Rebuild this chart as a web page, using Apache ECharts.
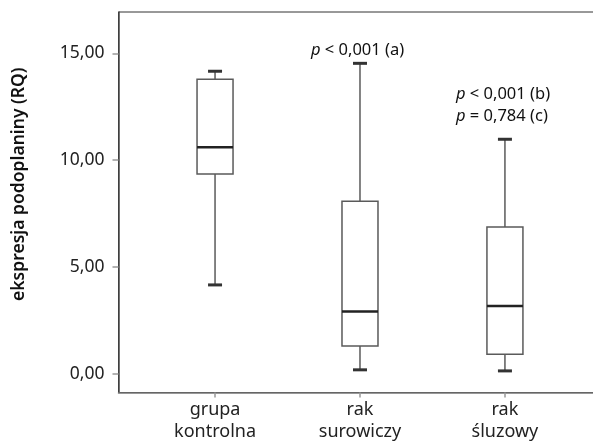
<!DOCTYPE html>
<html lang="pl">
<head>
<meta charset="UTF-8">
<title>ekspresja podoplaniny</title>
<script src="https://cdn.jsdelivr.net/npm/echarts@6/dist/echarts.min.js"></script>
<style>
  html, body { margin: 0; padding: 0; background: #fff; }
  #chart { width: 593px; height: 441px; }
</style>
</head>
<body>
<div id="chart"></div>
<script>
// groups and box values (RQ)
var categories = ['grupa\nkontrolna', 'rak\nsurowiczy', 'rak\nśluzowy'];
var lowers  = [4.17, 0.20, 0.15];
var q1s     = [9.35, 1.31, 0.93];
var medians = [10.61, 2.93, 3.18];
var q3s     = [13.79, 8.08, 6.88];
var uppers  = [14.16, 14.53, 10.98];
var yTicks  = [0, 5, 10, 15];

var fontFam = '"Noto Sans", "Open Sans", sans-serif';

var boxData = categories.map(function (c, i) {
    return [i + 1, lowers[i], q1s[i], medians[i], q3s[i], uppers[i]];
});

function renderBox(params, api) {
    var x = api.value(0);
    var pLow = api.coord([x, api.value(1)]);
    var pQ1 = api.coord([x, api.value(2)]);
    var pMed = api.coord([x, api.value(3)]);
    var pQ3 = api.coord([x, api.value(4)]);
    var pHigh = api.coord([x, api.value(5)]);
    var cx = pLow[0];
    var hw = 18, cap = 7;
    var grey = '#5a5a5a';
    return {
        type: 'group',
        children: [
            { type: 'line', shape: { x1: cx, y1: pLow[1], x2: cx, y2: pQ1[1] }, style: { stroke: grey, lineWidth: 1.5 } },
            { type: 'line', shape: { x1: cx, y1: pQ3[1], x2: cx, y2: pHigh[1] }, style: { stroke: grey, lineWidth: 1.5 } },
            { type: 'rect', shape: { x: cx - hw, y: pQ3[1], width: hw * 2, height: pQ1[1] - pQ3[1] },
              style: { fill: '#fff', stroke: grey, lineWidth: 1.5 } },
            { type: 'line', shape: { x1: cx - hw, y1: pMed[1], x2: cx + hw, y2: pMed[1] }, style: { stroke: '#222', lineWidth: 2.5 } },
            { type: 'line', shape: { x1: cx - cap, y1: pLow[1], x2: cx + cap, y2: pLow[1] }, style: { stroke: '#333', lineWidth: 3 } },
            { type: 'line', shape: { x1: cx - cap, y1: pHigh[1], x2: cx + cap, y2: pHigh[1] }, style: { stroke: '#333', lineWidth: 3 } }
        ]
    };
}

var chart = echarts.init(document.getElementById('chart'));
var option = {
    backgroundColor: '#fff',
    animation: false,
    grid: {
        left: 118.5, top: 12, right: -5, bottom: 48.5,
        outerBoundsMode: 'none',
        show: true, borderColor: '#333', borderWidth: 1
    },
    xAxis: {
        type: 'value',
        min: 0.334,
        max: 3.642,
        splitLine: { show: false },
        axisLine: { show: true, onZero: false, lineStyle: { color: '#777', width: 1.5 } },
        axisTick: { show: true, length: 5, customValues: [1, 2, 3], lineStyle: { color: '#999', width: 1.5 } },
        axisLabel: {
            customValues: [1, 2, 3],
            formatter: function (v) { return categories[Math.round(v) - 1]; },
            color: '#222', fontSize: 18, lineHeight: 22, margin: 6, fontFamily: fontFam
        }
    },
    yAxis: {
        type: 'value',
        min: -0.86,
        max: 16.93,
        splitLine: { show: false },
        axisLine: { show: true, lineStyle: { color: '#444', width: 1.5 } },
        axisTick: { show: true, length: 6, customValues: yTicks, lineStyle: { color: '#999', width: 1.5 } },
        axisLabel: {
            customValues: yTicks,
            formatter: function (v) { return v.toFixed(2).replace('.', ','); },
            color: '#222', fontSize: 17.5, margin: 14, fontFamily: fontFam
        },
        name: 'ekspresja podoplaniny (RQ)',
        nameLocation: 'middle',
        nameGap: 90,
        nameTextStyle: {
            color: '#111', fontSize: 17.5, fontWeight: 600, fontFamily: fontFam,
            padding: [0, 0, 0, 36]
        }
    },
    graphic: [
        {
            type: 'text', left: 311, top: 42,
            style: {
                text: '{i|p} < 0,001 (a)',
                fill: '#111', font: '16.5px ' + fontFam,
                rich: { i: { fontStyle: 'italic', fontSize: 16.5, fontFamily: fontFam, fill: '#111' } }
            }
        },
        {
            type: 'text', left: 456, top: 83,
            style: {
                text: '{i|p} < 0,001 (b)\n{i|p} = 0,784 (c)',
                fill: '#111', font: '16.5px ' + fontFam, lineHeight: 22,
                rich: { i: { fontStyle: 'italic', fontSize: 16.5, fontFamily: fontFam, fill: '#111', lineHeight: 22 } }
            }
        }
    ],
    series: [{
        type: 'custom',
        renderItem: renderBox,
        encode: { x: 0, y: [1, 2, 3, 4, 5] },
        data: boxData
    }]
};
chart.setOption(option);
</script>
</body>
</html>
